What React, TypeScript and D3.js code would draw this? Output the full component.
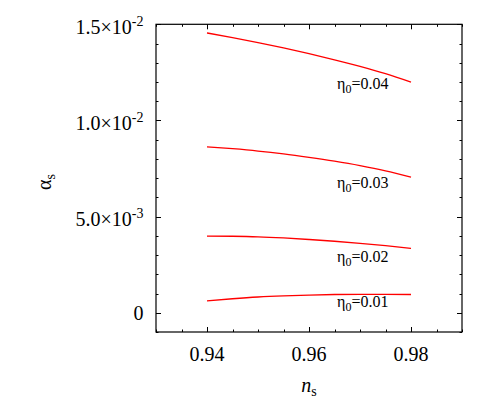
import React from "react";
import * as d3 from "d3";

const nsValues = [0.94, 0.945, 0.95, 0.955, 0.96, 0.965, 0.97, 0.975, 0.98];
const eta004 = [14.55, 14.31, 14.05, 13.77, 13.47, 13.15, 12.81, 12.43, 11.99];
const eta003 = [8.63, 8.53, 8.41, 8.26, 8.08, 7.88, 7.65, 7.38, 7.05];
const eta002 = [3.99, 3.98, 3.95, 3.89, 3.81, 3.72, 3.61, 3.49, 3.35];
const eta001 = [0.62, 0.73, 0.82, 0.88, 0.92, 0.95, 0.96, 0.96, 0.95];
const seriesLabels = ["0.04", "0.03", "0.02", "0.01"];
const labelX = 0.9655;
const labelY = [11.63, 6.48, 2.65, 0.3];
const xTicks = [0.94, 0.96, 0.98];
const yTicks = [0, 0.005, 0.01, 0.015];
const yTickMant = ["0", "5.0", "1.0", "1.5"];
const yTickExp = ["", "-3", "-2", "-2"];

const W = 500;
const H = 420;
const margin = { left: 156, right: 462, top: 24.3, bottom: 332 };
const FONT = '"Liberation Serif"';
const tStyle = { fontFamily: FONT };

export default function App() {
  const x = d3.scaleLinear().domain([0.93, 0.99]).range([margin.left, margin.right]);
  const y = d3.scaleLinear().domain([-0.001, 0.015]).range([margin.bottom, margin.top]);
  const all = [eta004, eta003, eta002, eta001];
  const line = d3
    .line<[number, number]>()
    .x((d) => x(d[0]))
    .y((d) => y(d[1] * 1e-3))
    .curve(d3.curveMonotoneX);

  const xMinor = d3.range(0.93, 0.9901, 0.005);
  const yMinor = d3.range(-0.001, 0.01501, 0.001);
  const isMajorX = (v: number) => xTicks.some((t) => Math.abs(t - v) < 1e-6);
  const isMajorY = (v: number) => yTicks.some((t) => Math.abs(t - v) < 1e-7);

  return (
    <svg width={W} height={H} style={{ display: "block", margin: -8 }}>
      <style>{`text, tspan { font-family: "Liberation Serif" !important; }`}</style>
      {xMinor.map((v, i) => {
        const len = isMajorX(v) ? 5 : 2.5;
        const xx = Math.round(x(v)) + 0.5;
        return (
          <g key={"xt" + i} stroke="#000" strokeWidth={1}>
            <line x1={xx} x2={xx} y1={margin.bottom} y2={margin.bottom - len} />
            <line x1={xx} x2={xx} y1={margin.top} y2={margin.top + len} />
          </g>
        );
      })}
      {yMinor.map((v, i) => {
        const len = isMajorY(v) ? 5 : 2.5;
        const yy = Math.round(y(v)) + 0.5;
        return (
          <g key={"yt" + i} stroke="#000" strokeWidth={1}>
            <line y1={yy} y2={yy} x1={margin.left} x2={margin.left + len} />
            <line y1={yy} y2={yy} x1={margin.right} x2={margin.right - len} />
          </g>
        );
      })}
      <rect
        x={margin.left}
        y={margin.top}
        width={margin.right - margin.left}
        height={margin.bottom - margin.top}
        fill="none"
        stroke="#000"
        strokeWidth={1.2}
      />
      {all.map((s, i) => (
        <path
          key={"c" + i}
          d={line(nsValues.map((v, j) => [v, s[j]] as [number, number])) || ""}
          fill="none"
          stroke="#ff0000"
          strokeWidth={1.3}
        />
      ))}
      {seriesLabels.map((lab, i) => (
        <text key={"l" + i} x={x(labelX)} y={y(labelY[i] * 1e-3)} fontSize={16} fontFamily="Liberation Serif" style={tStyle}>
          η
          <tspan fontSize={12} dy={4}>0</tspan>
          <tspan dy={-4}>={lab}</tspan>
        </text>
      ))}
      {xTicks.map((t, i) => (
        <text key={"xl" + i} x={x(t)} y={361} textAnchor="middle" fontSize={20} fontFamily="Liberation Serif" style={tStyle}>
          {t.toFixed(2)}
        </text>
      ))}
      {yTicks.map((t, i) => (
        <text
          key={"yl" + i}
          x={143.5}
          y={y(t) + (yTickExp[i] ? 9.7 : 6.8)}
          textAnchor="end"
          fontSize={20}
          fontFamily="Liberation Serif"
          style={tStyle}
        >
          {yTickExp[i] ? (
            <>
              {yTickMant[i]}×10
              <tspan fontSize={14} dy={-8}>{yTickExp[i]}</tspan>
            </>
          ) : (
            yTickMant[i]
          )}
        </text>
      ))}
      <text x={x(0.96)} y={391.5} textAnchor="middle" fontSize={20} fontFamily="Liberation Serif" style={tStyle}>
        <tspan fontStyle="italic">n</tspan>
        <tspan fontSize={14} dy={4}>s</tspan>
      </text>
      <text
        transform="translate(51,182) rotate(-90)"
        textAnchor="middle"
        fontSize={20}
        fontFamily="Liberation Serif"
        style={tStyle}
      >
        α<tspan fontSize={14} dy={4}>s</tspan>
      </text>
    </svg>
  );
}
